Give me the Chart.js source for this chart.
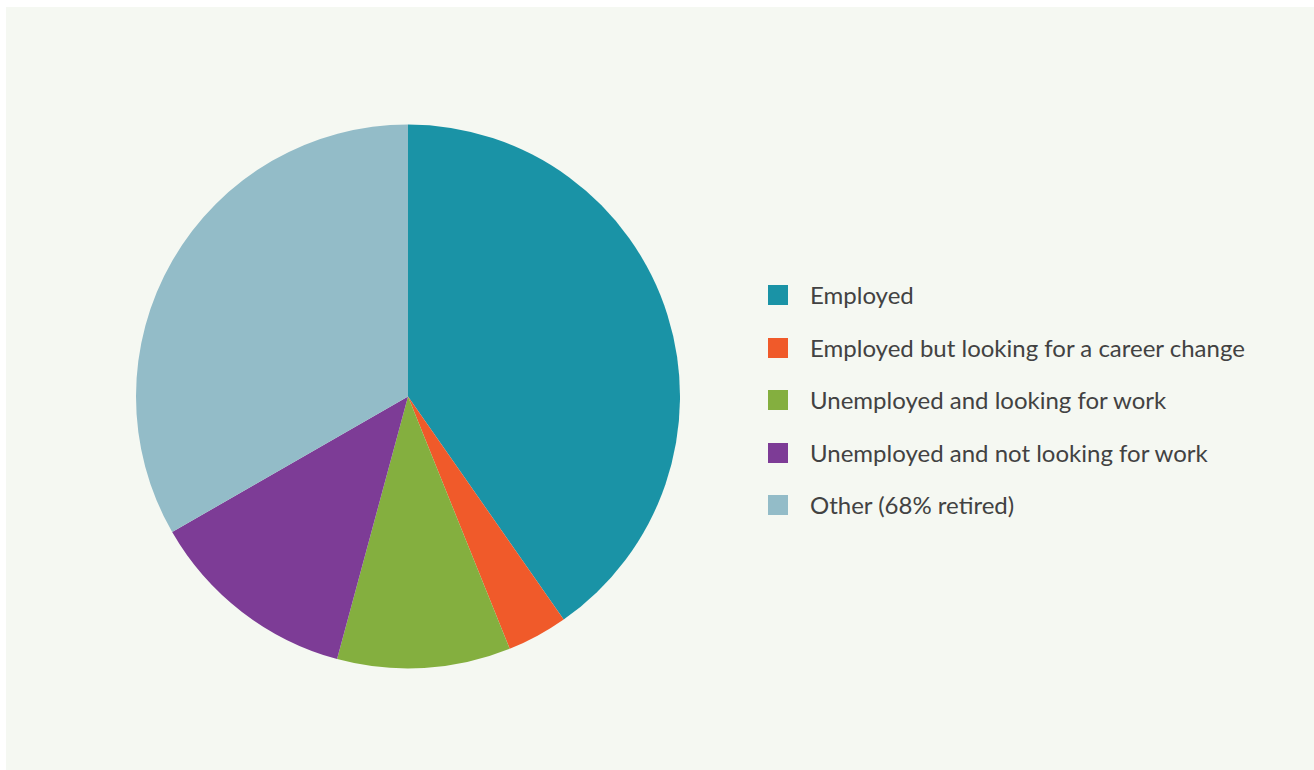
<!DOCTYPE html>
<html>
<head>
<meta charset="utf-8">
<script src="https://cdn.jsdelivr.net/npm/chart.js@4"></script>
<style>
  html, body { margin: 0; padding: 0; background: #ffffff; width: 1314px; height: 770px; overflow: hidden; }
  #panel { position: absolute; left: 6px; top: 7px; right: 0; bottom: 0; background: #f5f8f2; }
  #pieBox { position: absolute; left: 136px; top: 124px; width: 544px; height: 545px; }
  #legend { position: absolute; left: 768px; top: 285px; margin: 0; padding: 0; list-style: none;
            font-family: Lato, "Open Sans", sans-serif; font-size: 24px; color: #424242; }
  #legend li { height: 52.5px; position: relative; white-space: nowrap; }
  #legend .sw { position: absolute; left: 0; top: 0; width: 20px; height: 20px; }
  #legend .tx { position: absolute; left: 42px; top: -4px; line-height: 28px; }
</style>
</head>
<body>
<div id="panel"></div>
<div id="pieBox"><canvas id="pie"></canvas></div>
<ul id="legend"></ul>
<script>
const categories = [
  "Employed",
  "Employed but looking for a career change",
  "Unemployed and looking for work",
  "Unemployed and not looking for work",
  "Other (68% retired)"
];
const shares = [40.3, 3.6, 10.3, 12.5, 33.3];
const sliceColors = ["#1a93a6", "#f05a2a", "#84af3f", "#7d3c96", "#93bcc8"];

const chart = new Chart(document.getElementById("pie"), {
  type: "pie",
  data: {
    labels: categories,
    datasets: [{
      data: shares,
      backgroundColor: sliceColors,
      borderWidth: 0,
      hoverOffset: 0
    }]
  },
  options: {
    responsive: true,
    maintainAspectRatio: false,
    animation: false,
    layout: { padding: 0 },
    plugins: {
      legend: { display: false },
      tooltip: { enabled: false }
    }
  }
});

// Legend built from the chart's own labels and slice colours
const legendEl = document.getElementById("legend");
chart.data.labels.forEach((label, i) => {
  const li = document.createElement("li");
  const sw = document.createElement("span");
  sw.className = "sw";
  sw.style.background = chart.data.datasets[0].backgroundColor[i];
  const tx = document.createElement("span");
  tx.className = "tx";
  tx.textContent = label;
  li.appendChild(sw);
  li.appendChild(tx);
  legendEl.appendChild(li);
});
</script>
</body>
</html>
